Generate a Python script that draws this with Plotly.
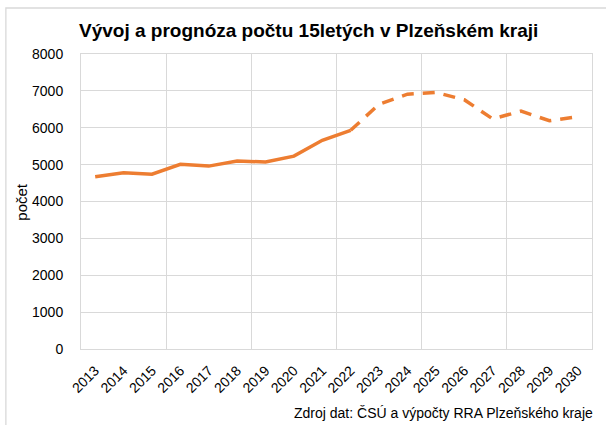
import plotly.graph_objects as go

years = [str(y) for y in range(2013, 2031)]
actual_years = years[:10]          # 2013-2022
actual_values = [4670, 4780, 4740, 5010, 4960, 5100, 5070, 5230, 5660, 5930]
forecast_years = years[9:]         # 2022-2030
forecast_values = [5930, 6640, 6910, 6960, 6760, 6240, 6450, 6190, 6300]

idx = {y: i for i, y in enumerate(years)}

FONT = "Liberation Sans, Arial, sans-serif"
ORANGE = "#ED7D31"
GRID = "#D9D9D9"

fig = go.Figure()
fig.add_trace(go.Scatter(
    x=[idx[y] for y in actual_years], y=actual_values, mode="lines",
    line=dict(color=ORANGE, width=3.5), showlegend=False, hoverinfo="skip"))
fig.add_trace(go.Scatter(
    x=[idx[y] for y in forecast_years], y=forecast_values, mode="lines",
    line=dict(color=ORANGE, width=3.5, dash="12px,9px"), showlegend=False, hoverinfo="skip"))

fig.update_layout(
    width=606, height=425,
    margin=dict(l=81, r=14, t=54, b=76, autoexpand=False),
    paper_bgcolor="white", plot_bgcolor="white",
    font=dict(family=FONT, size=14, color="#000000"),
    xaxis=dict(
        range=[-0.5, len(years) - 0.5], automargin=False,
        tickmode="array", tickvals=list(range(len(years))), ticktext=years,
        tickangle=-45, showgrid=False, zeroline=False,
        ticks="", ticklabelstandoff=7,
        showline=True, mirror=True, linecolor=GRID, linewidth=1,
        minor=dict(tickmode="array",
                   tickvals=[i - 0.5 for i in range(0, len(years) + 1, 3)],
                   showgrid=True, gridcolor=GRID, gridwidth=1, ticks=""),
        fixedrange=True,
    ),
    yaxis=dict(
        range=[0, 8000], tickmode="linear", tick0=0, dtick=1000, automargin=False,
        showgrid=True, gridcolor=GRID, gridwidth=1, zeroline=False,
        ticks="", ticklabelstandoff=14,
        showline=True, mirror=True, linecolor=GRID, linewidth=1,
        fixedrange=True,
    ),
    shapes=[dict(type="rect", xref="paper", yref="paper",
                 x0=-0.147, x1=1.2, y0=-0.45, y1=1.156,
                 line=dict(color=GRID, width=1.3), layer="below")],
    annotations=[
        dict(text="<b>Vývoj a prognóza počtu 15letých v Plzeňském kraji</b>",
             xref="paper", yref="paper", x=0.446, y=1.078,
             xanchor="center", yanchor="middle", showarrow=False,
             font=dict(family=FONT, size=19, color="#000000")),
        dict(text="počet", xref="paper", yref="paper", x=-0.117, y=0.5,
             xanchor="center", yanchor="middle", textangle=-90, showarrow=False,
             font=dict(family=FONT, size=15, color="#000000")),
        dict(text="Zdroj dat: ČSÚ a výpočty RRA Plzeňského kraje",
             xref="paper", yref="paper", x=1.006, y=-0.217,
             xanchor="right", yanchor="middle", showarrow=False,
             font=dict(family=FONT, size=14, color="#000000")),
    ],
)

fig.write_html("out.html", config={"displayModeBar": False},
               post_script="document.body.style.margin='0';document.body.style.padding='0';")
